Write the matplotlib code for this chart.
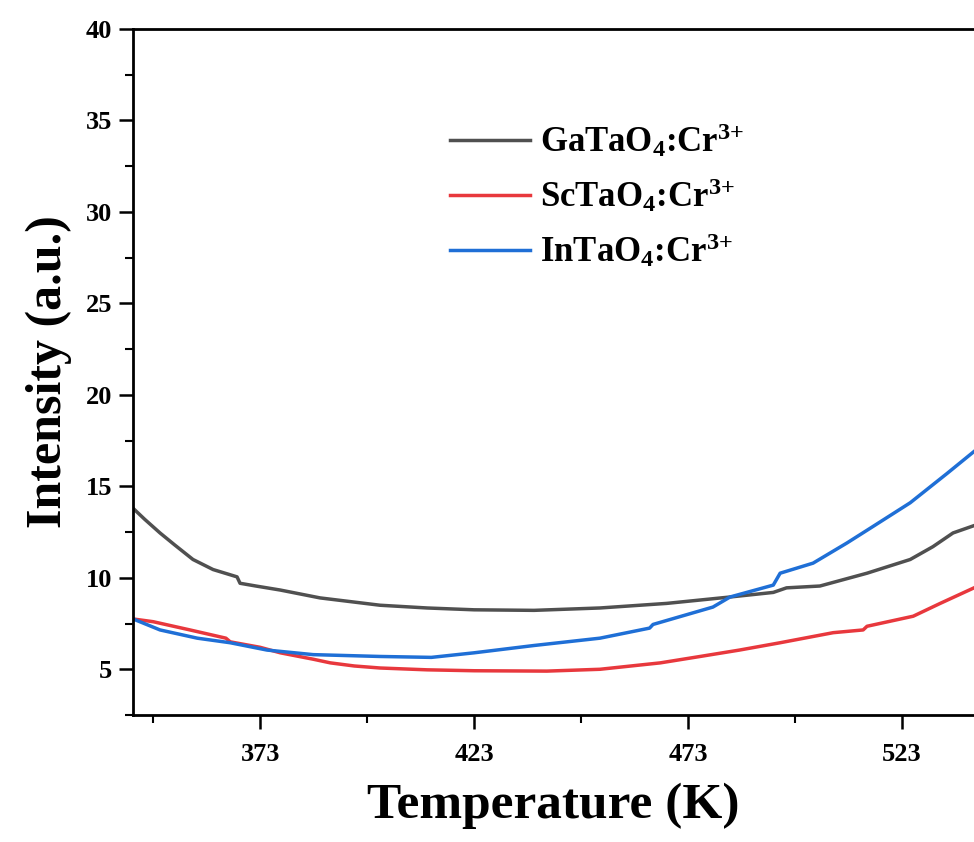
import matplotlib
matplotlib.use('Agg')
import matplotlib.pyplot as plt
from matplotlib.ticker import MultipleLocator, FixedLocator

plt.rcParams['font.family'] = ['Liberation Serif', 'DejaVu Serif']
plt.rcParams['font.weight'] = 'bold'
plt.rcParams['mathtext.fontset'] = 'custom'
plt.rcParams['mathtext.rm'] = 'Liberation Serif:bold'
plt.rcParams['mathtext.bf'] = 'Liberation Serif:bold'
plt.rcParams['mathtext.default'] = 'rm'

# curve values (temperature K, intensity a.u.)
ga_T = [343.3, 346.0, 349.6, 353.0, 357.3, 362.0, 367.6, 368.3, 372.0, 377.7, 387.0,
        401.0, 412.0, 423.0, 437.0, 452.4, 468.0, 482.8, 492.9, 496.0, 503.8,
        514.8, 524.9, 530.2, 534.9, 539.8]
ga_I = [13.8, 13.2, 12.45, 11.8, 11.0, 10.45, 10.05, 9.7, 9.55, 9.33, 8.9,
        8.5, 8.35, 8.25, 8.22, 8.35, 8.6, 8.95, 9.2, 9.45, 9.55,
        10.25, 11.0, 11.7, 12.45, 12.85]

sc_T = [343.3, 348.0, 356.6, 365.0, 366.0, 373.0, 377.7, 385.4, 389.4, 395.0, 401.0,
        412.0, 423.0, 440.0, 452.4, 466.5, 475.8, 485.0, 494.5, 506.9, 513.9, 514.8,
        525.6, 531.9, 539.8]
sc_I = [7.75, 7.6, 7.15, 6.7, 6.5, 6.2, 5.9, 5.55, 5.35, 5.18, 5.07,
        4.97, 4.92, 4.9, 5.0, 5.35, 5.7, 6.05, 6.45, 7.0, 7.15, 7.35,
        7.9, 8.6, 9.45]

in_T = [343.3, 349.6, 358.3, 366.0, 374.6, 385.4, 401.0, 413.0, 423.0, 437.0, 452.4,
        464.0, 464.8, 478.8, 482.8, 492.9, 494.5, 502.2, 510.1, 515.5, 524.9, 533.5, 539.8]
in_I = [7.75, 7.15, 6.7, 6.45, 6.05, 5.8, 5.7, 5.65, 5.9, 6.3, 6.7,
        7.25, 7.45, 8.4, 8.95, 9.6, 10.25, 10.8, 11.9, 12.7, 14.1, 15.7, 16.9]

labels = [r'GaTaO$_4$:Cr$^{3{+}}$', r'ScTaO$_4$:Cr$^{3{+}}$', r'InTaO$_4$:Cr$^{3{+}}$']
colors = ['#505050', '#e8383d', '#1f6fd6']
x_ticks = [373, 423, 473, 523]

fig = plt.figure(figsize=(9.74, 8.42), dpi=100)
ax = fig.add_axes([0.1366, 0.1508, 1.0 - 0.1366, 0.9658 - 0.1508])

ax.plot(ga_T, ga_I, color=colors[0], lw=2.5, label=labels[0])
ax.plot(sc_T, sc_I, color=colors[1], lw=2.5, label=labels[1])
ax.plot(in_T, in_I, color=colors[2], lw=2.5, label=labels[2])

ax.set_xlim(343.3, 539.8)
ax.set_ylim(2.5, 40)
ax.xaxis.set_major_locator(FixedLocator(x_ticks))
ax.xaxis.set_minor_locator(FixedLocator([348, 398, 448, 498, 548]))
ax.yaxis.set_major_locator(MultipleLocator(5))
ax.yaxis.set_minor_locator(MultipleLocator(2.5))
ax.set_yticks([5, 10, 15, 20, 25, 30, 35, 40])

ax.spines['right'].set_visible(False)
for s in ['left', 'bottom', 'top']:
    ax.spines[s].set_linewidth(2.0)
ax.tick_params(which='major', direction='out', length=10, width=1.8, labelsize=19)
ax.tick_params(which='minor', direction='out', length=5.5, width=1.5)
ax.tick_params(axis='x', pad=10)
ax.tick_params(axis='y', pad=5)

ax.set_xlabel('Temperature (K)', fontsize=37, fontweight='bold', labelpad=12)
ax.set_ylabel('Intensity (a.u.)', fontsize=36, fontweight='bold', labelpad=10)

leg = ax.legend(loc='upper left', bbox_to_anchor=(450 / 974, 1 - 122 / 842),
                bbox_transform=fig.transFigure, frameon=False, fontsize=25,
                handlelength=2.3, handletextpad=0.3, labelspacing=0.5,
                borderpad=0, borderaxespad=0)
for h in leg.get_lines():
    h.set_linewidth(2.5)

fig.savefig('out.png', dpi=100)
